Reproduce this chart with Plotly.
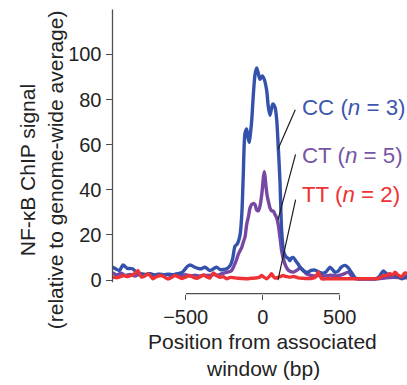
import plotly.graph_objects as go

# ---- data ----
cc_x = [-1000, -975, -955, -930, -907, -880, -845, -820, -790, -760, -730, -700, -670, -640, -610, -580,
        -550, -520, -490, -470, -445, -420, -400, -375, -342, -320, -299, -275, -255, -234, -212, -195,
        -180, -165, -147, -135, -126, -115, -104, -95, -87, -78, -71, -61, -50, -39, -30, -18, -3, 10,
        26, 36, 47, 57, 65, 80, 91, 101, 112, 123, 135, 145, 156, 168, 177, 188, 199, 215, 231, 245,
        265, 294, 315, 340, 365, 390, 410, 437, 455, 469, 490, 510, 535, 555, 575, 600, 620, 660, 700,
        740, 762, 783, 805, 830, 860, 880, 903, 930, 960]
cc_y = [5.5, 5.7, 5.0, 4.2, 6.7, 5.2, 5.0, 3.5, 2.8, 2.5, 2.8, 2.2, 2.6, 2.3, 2.6, 2.4,
        2.8, 3.5, 6.0, 6.7, 5.8, 5.2, 5.0, 5.7, 4.2, 5.0, 5.7, 4.6, 4.7, 5.0, 6.4, 9.5,
        15, 16, 20, 30, 47, 65, 67, 63, 61, 66, 71, 82, 91, 94, 92, 89, 90.5, 89,
        84, 77, 73, 76, 78, 76.5, 71, 59, 44, 22, 13, 11, 10, 9.5, 8.6, 9.8, 10, 8.5, 7, 5.5,
        4, 3.5, 4.3, 4.4, 3.5, 3.0, 3.5, 5.7, 4.5, 3.5, 4.0, 5.7, 6.5, 5.5, 3.5, 1.0, 0.6, 0.6, 0.6,
        0.7, 2.0, 4.0, 2.8, 2.5, 2.0, 1.5, 0.6, 1.5, 1.0]

ct_x = [-1000, -970, -950, -920, -890, -860, -830, -800, -770, -740, -710, -680, -650, -620, -590, -560,
        -530, -500, -470, -440, -410, -380, -350, -320, -290, -260, -230, -205, -185, -170, -158, -147,
        -136, -125, -115, -104, -93, -82, -71, -60, -50, -39, -28, -17, -6, 4, 10, 15, 22, 30, 40, 47,
        58, 70, 80, 91, 101, 112, 123, 134, 145, 166, 199, 225, 245, 262, 280, 307, 330, 360, 400, 440,
        480, 520, 556, 580, 600, 650, 700, 750, 800, 850, 900, 950]
ct_y = [2.5, 3.0, 2.2, 3.0, 2.0, 2.5, 1.8, 2.5, 2.0, 2.8, 2.0, 2.6, 2.0, 2.5, 1.8, 2.5,
        2.0, 2.4, 1.8, 2.2, 1.8, 2.2, 2.0, 2.4, 2.2, 3.0, 3.5, 4.0, 6.5, 9.0, 11.5, 13,
        14.5, 17, 19, 24.7, 28, 32, 33.5, 34, 33.5, 31, 30.7, 33, 38, 45, 48, 46, 41, 37, 34, 32,
        30.7, 30.5, 29, 27.5, 24.5, 19, 13, 9.5, 7, 4.4, 3.5, 4.5, 5.5, 4.5, 3.0, 2.2, 1.8, 2.0, 1.8, 2.2,
        1.8, 2.5, 3.5, 1.5, 0.6, 0.5, 0.5, 0.6, 1.0, 1.2, 1.0, 1.0]

tt_x = [-1000, -975, -950, -925, -900, -880, -855, -832, -810, -788, -765, -745, -725, -712, -690, -658,
        -635, -615, -590, -571, -550, -525, -500, -474, -450, -425, -405, -386, -365, -342, -321, -300,
        -275, -255, -234, -210, -185, -160, -135, -104, -75, -45, -20, -6, 10, 26, 42, 58, 70, 80, 100,
        115, 132, 150, 175, 200, 230, 260, 290, 320, 345, 361, 383, 420, 470, 520, 570, 620, 670, 720,
        760, 783, 805, 826, 845, 859, 880, 903, 924, 950]
tt_y = [1.0, 1.3, 1.0, 1.5, 2.0, 1.5, 2.0, 2.8, 4.2, 1.3, 1.8, 2.8, 1.5, 0.6, 1.5, 2.0,
        1.2, 0.5, 1.2, 2.0, 1.5, 0.7, 1.3, 2.0, 1.2, 0.8, 1.5, 2.3, 1.5, 0.9, 3.2, 2.0,
        1.2, 1.5, 0.6, 1.2, 1.0, 0.8, 0.7, 0.6, 0.8, 0.9, 1.3, 2.0, 1.2, 0.6, 1.5, 2.8, 1.5, 0.9, 1.2,
        1.5, 2.0, 1.6, 1.3, 1.6, 1.0, 0.8, 0.7, 0.8, 1.5, 3.5, 0.6, 0.6, 0.6, 0.6, 0.6, 0.6, 0.6, 0.6,
        1.0, 2.0, 2.0, 2.8, 2.3, 3.5, 2.2, 1.5, 3.2, 2.5]

y_ticks = [0, 20, 40, 60, 80, 100]
x_ticks = [-500, 0, 500]

labels = ["CC", "CT", "TT"]
n_vals = [3, 5, 2]
label_y = [76.4, 55.4, 37.9]
pointer_xy = [(99, 58), (99, 26.7), (99, 0)]
pointer_off = [(18, -41), (18, -67), (18, -82)]

BLUE = "rgb(52,82,172)"
PURPLE = "rgb(118,72,164)"
RED = "rgb(238,50,54)"
text_colors = ["rgb(62,86,176)", "rgb(120,84,166)", "rgb(238,50,54)"]

W, H = 407, 385
FONT = "Liberation Sans, Arial, sans-serif"

fig = go.Figure()
for xs, ys, c in [(ct_x, ct_y, PURPLE), (cc_x, cc_y, BLUE), (tt_x, tt_y, RED)]:
    fig.add_trace(go.Scatter(x=xs, y=ys, mode="lines",
                             line=dict(color=c, width=3.4, shape="spline", smoothing=0.7),
                             hoverinfo="skip", showlegend=False))

x_left_px, x0_px, px_per_bp = 112.5, 262.7, 0.154
xr = [-(x0_px - x_left_px) / px_per_bp, (W - x0_px) / px_per_bp]
y0_px, px_per_unit = 283.0, 2.28
yr = [-3, 120]
ydom = [1 - (y0_px - yr[0] * px_per_unit) / H, 1 - (y0_px - yr[1] * px_per_unit) / H]

xaxis_y_px = 296.7
AX = "rgb(80,80,80)"
TXT = "rgb(35,35,35)"

fig.update_layout(
    width=W, height=H, margin=dict(l=0, r=0, t=0, b=0),
    paper_bgcolor="white", plot_bgcolor="white",
    font=dict(family=FONT, color=TXT),
    xaxis=dict(domain=[x_left_px / W, 1], range=xr, showgrid=False, zeroline=False,
               showline=False, tickvals=x_ticks, ticks="outside", ticklen=5,
               tickwidth=1.3, tickcolor=AX, tickfont=dict(size=20, color=TXT),
               anchor="free", position=1 - xaxis_y_px / H),
    yaxis=dict(domain=ydom, range=yr, showgrid=False, zeroline=False, showline=False,
               tickvals=y_ticks, ticks="outside", ticklen=6, tickwidth=1.3, tickcolor=AX,
               tickfont=dict(size=20, color=TXT)),
)

# axis lines
fig.add_shape(type="line", xref="x", yref="paper", x0=x_ticks[0], x1=x_ticks[-1],
              y0=1 - xaxis_y_px / H, y1=1 - xaxis_y_px / H, line=dict(color=AX, width=1.3))
fig.add_shape(type="line", xref="paper", yref="y", x0=x_left_px / W, x1=x_left_px / W,
              y0=-1, y1=yr[1], line=dict(color=AX, width=1.3))

# x title
fig.add_annotation(x=0, xref="x", y=1 - 345 / H, yref="paper", text="Position from associated",
                   showarrow=False, font=dict(size=21, color=TXT), xanchor="center", yanchor="middle")
fig.add_annotation(x=0, xref="x", y=1 - 372 / H, yref="paper", text="window (bp)",
                   showarrow=False, font=dict(size=21, color=TXT), xanchor="center", yanchor="middle")
# y title
fig.add_annotation(x=27 / W, xref="paper", y=1 - 172 / H, yref="paper", text="NF-κB ChIP signal",
                   textangle=-90, showarrow=False, font=dict(size=21, color=TXT),
                   xanchor="center", yanchor="middle")
fig.add_annotation(x=55 / W, xref="paper", y=1 - 172 / H, yref="paper",
                   text="(relative to genome-wide average)",
                   textangle=-90, showarrow=False, font=dict(size=21, color=TXT),
                   xanchor="center", yanchor="middle")

# series labels with leader lines
for lab, n, ly, (px, py), (ax, ay), tc in zip(labels, n_vals, label_y, pointer_xy, pointer_off, text_colors):
    fig.add_annotation(x=(299.5 - x0_px) / px_per_bp, y=ly, xref="x", yref="y",
                       text=f"{lab} (<i>n</i> = {n})", showarrow=False, xanchor="left",
                       yanchor="middle", font=dict(size=22.3, color=tc))
    fig.add_annotation(x=px, y=py, xref="x", yref="y", text="", showarrow=True,
                       arrowhead=0, arrowwidth=1.2, arrowcolor="rgb(30,30,30)",
                       ax=ax, ay=ay, standoff=0, startstandoff=0)

fig.write_html("out.html")
